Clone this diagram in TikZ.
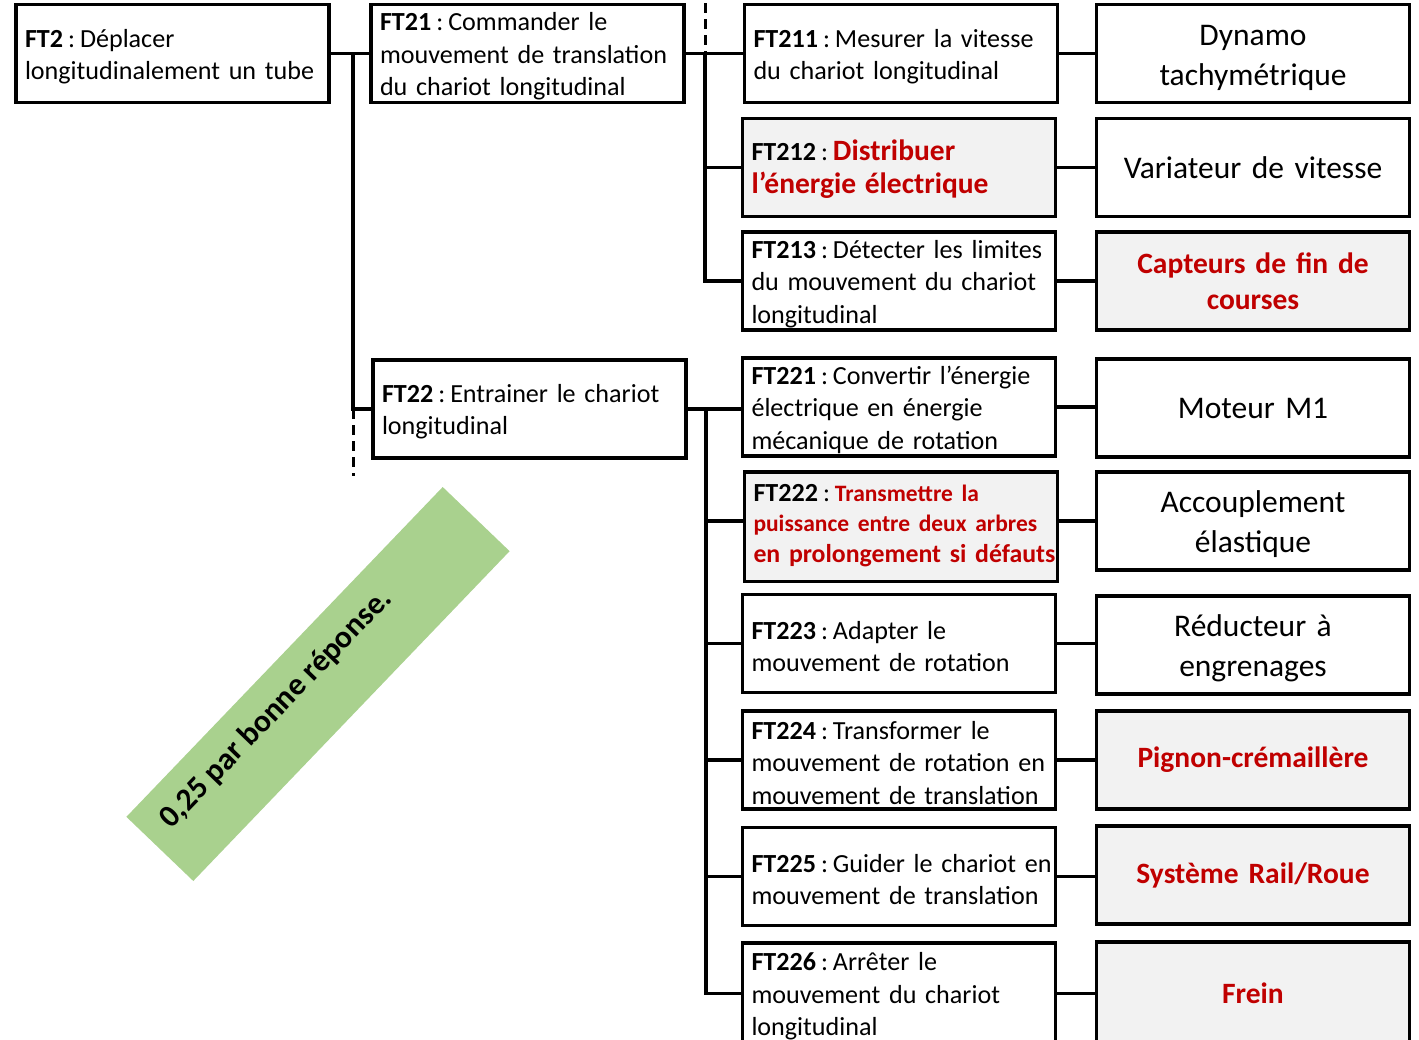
\documentclass[tikz,border=0pt]{standalone}
\usepackage{fontspec}
\setmainfont{Carlito}
\usepackage{xcolor}
\definecolor{redtxt}{HTML}{C00000}
\definecolor{grayfill}{HTML}{F2F2F2}
\definecolor{notegreen}{HTML}{A9D18E}
\newcommand\fsLeft{\fontsize{26.1}{32.4}\selectfont}
\newcommand\fsRight{\fontsize{31.5}{40}\selectfont}
\newcommand\fsRedBig{\fontsize{29.5}{36}\selectfont}
\newcommand\ml[1]{\mbox{#1}}
\newcommand\cln{\hspace{0.19em}:\hspace{0.19em}}
\frenchspacing
\begin{document}
\begin{tikzpicture}[x=1pt,y=-1pt,
  ftbox/.style={draw, line width=3.5pt, minimum width=313pt, minimum height=98pt,
    text width=295pt, inner xsep=9pt, inner ysep=0pt, align=left, font=\fsLeft\frenchspacing,
    execute at begin node={\rule{0pt}{24pt}}},
  compbox/.style={draw, line width=3.5pt, minimum width=313pt, minimum height=98pt,
    text width=295pt, inner xsep=9pt, inner ysep=0pt, align=center, font=\fsRight},
  lowered/.style={execute at begin node={\rule{0pt}{29pt}}},
  hl/.style={fill=grayfill},
  conn/.style={line width=3.2pt},
  dashconn/.style={line width=3pt, dash pattern=on 10pt off 6pt},
  notebox/.style={fill=notegreen, minimum width=457pt, minimum height=92.7pt, inner sep=0pt}
]
\useasboundingbox (0,0) rectangle (1419,1039);
\clip (0,0) rectangle (1419,1039);

% level 1 and 2
\node[ftbox] (ft2) at (172.5,53.5) {\textbf{FT2}\cln Déplacer\\\ml{longitudinalement un tube}};
\node[ftbox] (ft21) at (527.5,53.5) {\textbf{FT21}\cln Commander le\\\ml{mouvement de translation}\\du chariot longitudinal};
\node[ftbox] (ft22) at (529.5,409) {\textbf{FT22}\cln Entrainer le chariot\\longitudinal};

% FT21 children
\node[ftbox] (ft211) at (901,53.5) {\ml{\textbf{FT211}\cln Mesurer la vitesse}\\du chariot longitudinal};
\node[ftbox,hl] (ft212) at (899,167.5) {{\fsLeft\textbf{FT212}\cln}\fsRedBig\bfseries\color{redtxt}Distribuer\\l’énergie électrique};
\node[ftbox] (ft213) at (899,281) {\ml{\textbf{FT213}\cln Détecter les limites}\\\ml{du mouvement du chariot}\\longitudinal};

% FT22 children
\node[ftbox] (ft221) at (899,407) {\ml{\textbf{FT221}\cln Convertir l’énergie}\\électrique en énergie\\mécanique de rotation};
\node[ftbox,hl,minimum height=109.5pt,font=\fontsize{26.1}{30.5}\selectfont,execute at begin node={}] (ft222) at (901,526.5) {\ml{\textbf{FT222}\cln{\fontsize{23.5}{30}\selectfont\bfseries\color{redtxt}Transmettre la}}\\\ml{\fontsize{23.5}{30}\selectfont\bfseries\color{redtxt}puissance entre deux arbres}\\\ml{\fontsize{25.8}{30.5}\selectfont\bfseries\color{redtxt}en prolongement si défauts\rule[-14pt]{0pt}{14pt}}};
\node[ftbox] (ft223) at (899,643.5) {\textbf{FT223}\cln Adapter le\\mouvement de rotation};
\node[ftbox] (ft224) at (899,760) {\textbf{FT224}\cln Transformer le\\\ml{mouvement de rotation en}\\\ml{mouvement de translation}};
\node[ftbox] (ft225) at (899,876.5) {\ml{\textbf{FT225}\cln Guider le chariot en}\\\ml{mouvement de translation}};
\node[ftbox,minimum height=101.5pt] (ft226) at (899,993.5) {\textbf{FT226}\cln Arrêter le\\\ml{mouvement du chariot}\\longitudinal};

% components
\node[compbox,lowered] (dyn) at (1253,53.5) {Dynamo\\tachymétrique};
\node[compbox] (var) at (1253,167.5) {Variateur de vitesse};
\node[compbox,hl,font=\fsRedBig\bfseries\color{redtxt}] (cap) at (1253,281) {Capteurs de fin de\\courses};
\node[compbox] (mot) at (1253,408) {Moteur M1};
\node[compbox,lowered] (acc) at (1253,521) {Accouplement\\élastique};
\node[compbox,lowered] (red) at (1253,645) {Réducteur à\\engrenages};
\node[compbox,hl,font=\fsRedBig\bfseries\color{redtxt}] (pig) at (1253,760) {Pignon-crémaillère};
\node[compbox,hl,font=\fsRedBig\bfseries\color{redtxt}] (sys) at (1253,875) {Système Rail/Roue};
\node[compbox,hl,minimum height=102.5pt,font=\fsRedBig\bfseries\color{redtxt}] (frein) at (1253,993) {Frein};

% trunk coordinates
\coordinate (t1) at (353,0);
\coordinate (d1) at (353,476);
\coordinate (t2) at (705,3);
\coordinate (t3) at (706,0);

% connectors level 1
\draw[conn] (ft2.east) -- (ft21.west);
\draw[conn] (ft2.east -| t1) |- (ft22.west);
\draw[dashconn] (ft22.west -| t1) -- (d1);

% FT21 branch
\draw[dashconn] (t2) -- (t2 |- ft21.east);
\draw[conn] (ft21.east) -- (ft211.west);
\draw[conn] (t2 |- ft21.east) |- (ft213.west);
\draw[conn] (t2 |- ft212.west) -- (ft212.west);

% FT22 branch
\draw[conn] (ft22.east) -- (ft22.east -| ft221.west);
\draw[conn] (t3 |- ft22.east) |- (ft226.west);
\draw[conn] (t3 |- acc.west) -- (ft222.west |- acc.west);
\draw[conn] (t3 |- ft223.west) -- (ft223.west);
\draw[conn] (t3 |- ft224.west) -- (ft224.west);
\draw[conn] (t3 |- ft225.west) -- (ft225.west);

% to components
\draw[conn] (ft211.east) -- (dyn.west);
\draw[conn] (ft212.east) -- (var.west);
\draw[conn] (ft213.east) -- (cap.west);
\draw[conn] (ft221.east) -- (ft221.east -| mot.west);
\draw[conn] (ft222.east |- acc.west) -- (acc.west);
\draw[conn] (ft223.east) -- (ft223.east -| red.west);
\draw[conn] (ft224.east) -- (pig.west);
\draw[conn] (ft225.east) -- (ft225.east -| sys.west);
\draw[conn] (ft226.east) -- (ft226.east -| frein.west);

% note
\node[notebox, rotate=46.2] (note) at (318,684) {};
\node[rotate=46, font=\fontsize{31.5}{36}\selectfont\bfseries, inner sep=0pt] (notetxt) at (276,709) {0,25 par bonne réponse.};
\end{tikzpicture}
\end{document}
